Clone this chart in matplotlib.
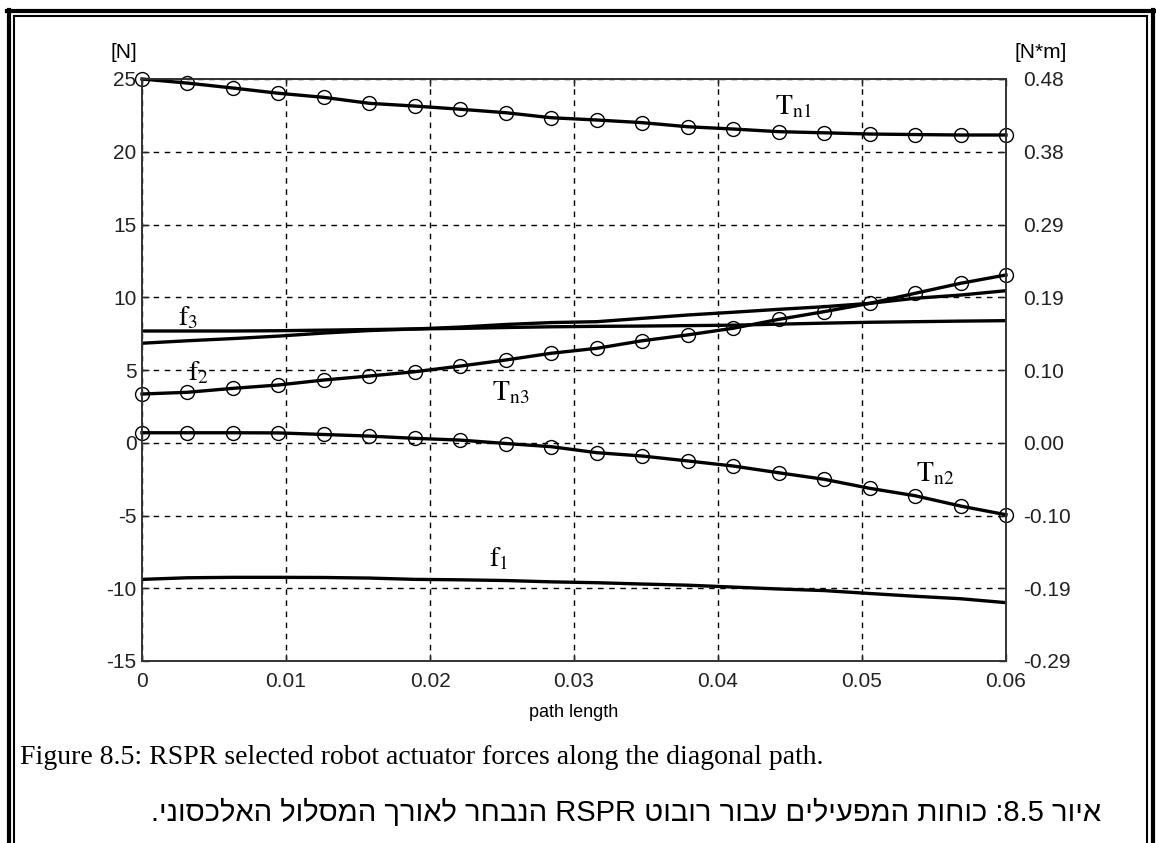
import matplotlib
matplotlib.use("Agg")
import matplotlib.pyplot as plt
from matplotlib.lines import Line2D
import numpy as np

# path length samples (20 points, 0 .. 0.06)
path_length = np.linspace(0.0, 0.06, 20)

# forces [N]
f1 = [-9.39, -9.28, -9.25, -9.25, -9.26, -9.30, -9.39, -9.42, -9.47, -9.56,
      -9.62, -9.71, -9.79, -9.92, -10.05, -10.16, -10.36, -10.55, -10.72, -10.99]
f2 = [6.84, 7.01, 7.16, 7.33, 7.54, 7.71, 7.82, 7.95, 8.13, 8.26,
      8.32, 8.55, 8.78, 8.97, 9.17, 9.35, 9.58, 9.93, 10.15, 10.45]
f3 = [7.68, 7.68, 7.68, 7.70, 7.74, 7.78, 7.82, 7.86, 7.92, 7.97,
      8.00, 8.02, 8.05, 8.08, 8.15, 8.22, 8.28, 8.32, 8.36, 8.39]

# torques [N*m]
tn1 = [0.480, 0.4746, 0.4681, 0.4612, 0.4558, 0.4479, 0.4443, 0.4401, 0.4355, 0.4289,
       0.4259, 0.4224, 0.4170, 0.4140, 0.4105, 0.4090, 0.4074, 0.4067, 0.4061, 0.4061]
tn2 = [0.0132, 0.0132, 0.0132, 0.0130, 0.0109, 0.0088, 0.0058, 0.0035, -0.0010, -0.0052,
       -0.0131, -0.0175, -0.0240, -0.0307, -0.0396, -0.0482, -0.0601, -0.0699, -0.0835, -0.0950]
tn3 = [0.0643, 0.0666, 0.0718, 0.0762, 0.0828, 0.0881, 0.0937, 0.1012, 0.1092, 0.1181,
       0.1246, 0.1346, 0.1423, 0.1511, 0.1628, 0.1730, 0.1839, 0.1972, 0.2104, 0.2214]

force_ticks = [-15, -10, -5, 0, 5, 10, 15, 20, 25]
x_ticks = [0, 0.01, 0.02, 0.03, 0.04, 0.05, 0.06]
x_ticklabels = ["0", "0.01", "0.02", "0.03", "0.04", "0.05", "0.06"]
torque_scale = 0.48 / 25  # N*m per N on the shared grid

caption_en = "Figure 8.5: RSPR selected robot actuator forces along the diagonal path."
caption_he = "איור 8.5: כוחות המפעילים עבור רובוט RSPR הנבחר לאורך המסלול האלכסוני."


def is_hebrew(s):
    return any("\u0590" <= c <= "\u05ff" for c in s)


def visual_rtl(text):
    # matplotlib has no bidi support: build the visual (left to right) order
    out = []
    for tok in reversed(text.split(" ")):
        trail = ""
        while tok and tok[-1] in ".:,":
            trail = tok[-1] + trail
            tok = tok[:-1]
        if is_hebrew(tok):
            tok = tok[::-1]
        out.append(trail + tok)
    return " ".join(out)


W, H = 1156, 843
plt.rcParams["mathtext.fontset"] = "stix"
tick_font = ["Liberation Sans", "DejaVu Sans"]

fig = plt.figure(figsize=(W / 100, H / 100), dpi=100)
fig.patch.set_facecolor("white")


def fx(px):
    return px / W


def fy(py):
    return 1 - py / H


ax = fig.add_axes([fx(142), fy(661), fx(1006) - fx(142), fy(79) - fy(661)])
ax2 = ax.twinx()

lw = 2.4
ax.plot(path_length, f1, color="black", lw=lw)
ax.plot(path_length, f2, color="black", lw=lw)
ax.plot(path_length, f3, color="black", lw=lw)
for tn in (tn1, tn2, tn3):
    ax2.plot(path_length, tn, color="black", lw=lw, marker="o", ms=10,
             mfc="none", mec="black", mew=1.0, clip_on=False)

ax.set_xlim(0, 0.06)
ax.set_ylim(-15, 25)
ax2.set_ylim(-15 * torque_scale, 25 * torque_scale)

ax.set_xticks(x_ticks)
ax.set_xticklabels(x_ticklabels, fontfamily=tick_font, fontsize=15)
ax.set_yticks(force_ticks)
ax.set_yticklabels([str(v) for v in force_ticks], fontfamily=tick_font, fontsize=15)
ax2.set_yticks([v * torque_scale for v in force_ticks])
ax2.set_yticklabels([f"{v * torque_scale:.2f}" for v in force_ticks],
                    fontfamily=tick_font, fontsize=15)

ax.tick_params(axis="both", direction="in", length=5, width=1, top=True, colors="#222222",
               pad=4)
ax.tick_params(axis="x", pad=8)
ax2.tick_params(axis="y", direction="in", length=5, width=1, colors="#222222", pad=12)

ax.grid(True, color="black", linestyle=(0, (4, 4)), linewidth=1.0)
for a in (ax, ax2):
    for sp in a.spines.values():
        sp.set_color("#333333")
        sp.set_linewidth(1.2)

ax.set_xlabel("path length", fontfamily=tick_font, fontsize=13, labelpad=9)

fig.text(fx(110), fy(52), "[N]", fontfamily=tick_font, fontsize=15, va="center", ha="left")
fig.text(fx(1014), fy(52), "[N*m]", fontfamily=tick_font, fontsize=15, va="center", ha="left")

lab = dict(fontsize=20, ha="center", va="center", color="black")
ax.text(0.0452, 23.14, r"$\mathrm{T}_{\mathrm{n1}}$", **lab)
ax.text(0.0032, 8.64, r"$\mathrm{f}_{3}$", **lab)
ax.text(0.0039, 4.86, r"$\mathrm{f}_{2}$", **lab)
ax.text(0.0256, 3.49, r"$\mathrm{T}_{\mathrm{n3}}$", **lab)
ax.text(0.0551, -2.08, r"$\mathrm{T}_{\mathrm{n2}}$", **lab)
ax.text(0.0248, -7.92, r"$\mathrm{f}_{1}$", **lab)

fig.text(fx(20), fy(757), caption_en, fontfamily=["Liberation Serif", "DejaVu Serif"],
         fontsize=20, va="center", ha="left")
fig.text(fx(1101), fy(813), visual_rtl(caption_he), fontfamily=["Liberation Sans", "DejaVu Sans"],
         fontsize=21, va="center", ha="right")

# double frame around the figure
for x0, lwid in ((fx(8.5), 3.0), (fx(13.5), 1.5)):
    fig.add_artist(Line2D([x0, x0], [0, fy(10 if lwid > 2 else 16)], color="black",
                          lw=lwid, transform=fig.transFigure))
for x0, lwid in ((fx(1153), 3.0), (fx(1147), 1.5)):
    fig.add_artist(Line2D([x0, x0], [0, fy(10 if lwid > 2 else 16)], color="black",
                          lw=lwid, transform=fig.transFigure))
fig.add_artist(Line2D([fx(7), fx(1155)], [fy(10.5), fy(10.5)], color="black", lw=3.0,
                      transform=fig.transFigure))
fig.add_artist(Line2D([fx(13.5), fx(1147)], [fy(16), fy(16)], color="black", lw=1.5,
                      transform=fig.transFigure))

fig.savefig("out.png", dpi=100, facecolor="white")
